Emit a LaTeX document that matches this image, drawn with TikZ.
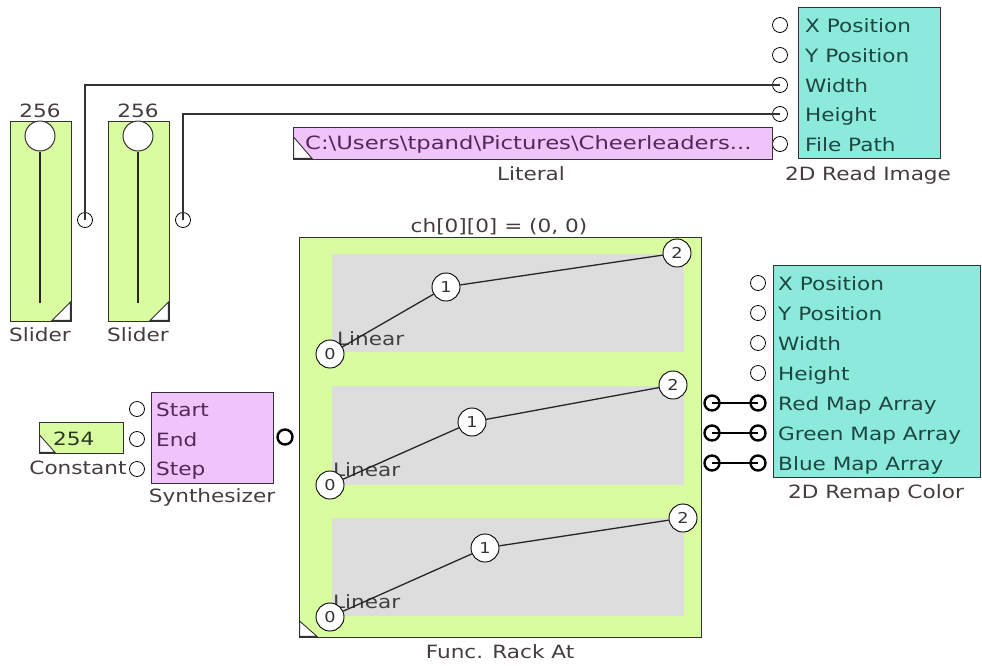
\documentclass[tikz,border=0pt]{standalone}
\usepackage{fontspec}
\newfontfamily\lbl[FakeStretch=1.18]{DejaVu Sans}
\newfontfamily\lblw[FakeStretch=1.24]{DejaVu Sans}
\definecolor{grn}{RGB}{218,252,160}
\definecolor{tealbox}{RGB}{140,234,220}
\definecolor{pnk}{RGB}{240,196,250}
\definecolor{pnl}{RGB}{221,221,221}
\definecolor{edge}{RGB}{50,50,50}
\definecolor{tealtxt}{RGB}{30,70,65}
\definecolor{pnktxt}{RGB}{80,40,90}
\definecolor{grntxt}{RGB}{40,55,30}
\definecolor{ttl}{RGB}{70,60,60}
\tikzset{
  box/.style={draw=edge, line width=1.3pt, inner sep=0pt, anchor=north west},
  port/.style={circle, draw=black, fill=white, line width=0.8pt, minimum size=15pt, inner sep=0pt},
  bport/.style={circle, draw=black, fill=white, line width=2.4pt, minimum size=15pt, inner sep=0pt},
  knob/.style={circle, draw=edge, fill=white, line width=1pt, minimum size=30pt, inner sep=0pt},
  fpt/.style={circle, draw=black, fill=white, line width=0.9pt, minimum size=28pt, inner sep=0pt, font=\lbl\fontsize{15}{16}\selectfont, text=black!80},
  txt/.style={font=\lbl\fontsize{18.3}{20}\selectfont, inner sep=0pt, anchor=base west},
  ttltxt/.style={font=\lbl\fontsize{18.3}{20}\selectfont, inner sep=0pt, anchor=base, text=ttl},
  wire/.style={draw=edge, line width=1.3pt},
  fline/.style={draw=black!85, line width=1.3pt},
  corner/.style={fill=white, draw=edge, line width=0.9pt},
}
\begin{document}
\begin{tikzpicture}[x=1pt,y=-1pt]
\useasboundingbox (0,0) rectangle (982,665);

% ---------- 2D Read Image ----------
\node[box, fill=tealbox, minimum width=142pt, minimum height=151pt] (ri) at (798,7) {};
\node[port] (riX) at (780,25) {};
\node[port] (riY) at (780,55) {};
\node[port] (riW) at (780,85) {};
\node[port] (riH) at (780,114) {};
\node[port] (riF) at (780,144) {};
\node[txt, text=tealtxt] (riXl) at (805,32) {X Position};
\node[txt, text=tealtxt] (riYl) at (805,62) {Y Position};
\node[txt, text=tealtxt] (riWl) at (805,92) {Width};
\node[txt, text=tealtxt] (riHl) at (805,121) {Height};
\node[txt, text=tealtxt] (riFl) at (805,151) {File Path};
\node[ttltxt] (rit) at (868,180) {2D Read Image};

% ---------- Sliders ----------
\node[box, fill=grn, minimum width=61pt, minimum height=200pt] (s1) at (10,121) {};
\node[box, fill=grn, minimum width=61pt, minimum height=200pt] (s2) at (108,121) {};
\coordinate (s1b) at (40,303);
\coordinate (s2b) at (138,303);
\node[knob] (k1) at (40,136) {};
\node[knob] (k2) at (138,136) {};
\draw[fline] (k1.south) -- (s1b);
\draw[fline] (k2.south) -- (s2b);
\path[corner] (52,320.4) -- (70.4,302) -- (70.4,320.4) -- cycle;
\path[corner] (150,320.4) -- (168.4,302) -- (168.4,320.4) -- cycle;
\node[ttltxt] (s1v) at (40,117) {256};
\node[ttltxt] (s2v) at (138,117) {256};
\node[ttltxt] (s1t) at (40,341) {Slider};
\node[ttltxt] (s2t) at (138,341) {Slider};
\node[port] (sp1) at (85,220) {};
\node[port] (sp2) at (183,220) {};
\draw[wire] (sp1.center) |- (riW.center);
\draw[wire] (sp2.center) |- (riH.center);

% ---------- Literal ----------
\node[box, fill=pnk, minimum width=479pt, minimum height=32pt] (lit) at (293,127) {};
\path[corner] (293.6,137) -- (312,158.4) -- (293.6,158.4) -- cycle;
\node[txt, font=\lblw\fontsize{18.3}{20}\selectfont, text=pnktxt] (litv) at (305,149.5) {C:\textbackslash Users\textbackslash tpand\textbackslash Pictures\textbackslash Cheerleaders...};
\node[ttltxt] (litt) at (531,180) {Literal};

% ---------- Constant ----------
\node[box, fill=grn, minimum width=84pt, minimum height=31pt] (con) at (39,422) {};
\path[corner] (39.6,435) -- (55,452.4) -- (39.6,452.4) -- cycle;
\node[txt, text=grntxt] (conv) at (53,445) {254};
\node[ttltxt] (cont) at (78,474) {Constant};

% ---------- Synthesizer ----------
\node[box, fill=pnk, minimum width=122pt, minimum height=91pt] (syn) at (151,392) {};
\node[port] (synS) at (137,409) {};
\node[port] (synE) at (137,439) {};
\node[port] (synP) at (137,469) {};
\node[txt, text=pnktxt] (synSl) at (156,416) {Start};
\node[txt, text=pnktxt] (synEl) at (156,446) {End};
\node[txt, text=pnktxt] (synPl) at (156,475) {Step};
\node[ttltxt] (synt) at (212,502) {Synthesizer};
\node[bport] (synO) at (285,437) {};

% ---------- Func. Rack At ----------
\node[box, fill=grn, minimum width=402pt, minimum height=400pt] (rack) at (299,237) {};
\node[ttltxt] (rackh) at (499,232) {ch[0][0] = (0, 0)};
\node[ttltxt] (rackt) at (500,658) {Func. Rack At};
\node[box, draw=none, fill=pnl, minimum width=352pt, minimum height=98pt] (pa) at (331,253) {};
\node[box, draw=none, fill=pnl, minimum width=352pt, minimum height=99pt] (pb) at (331,385) {};
\node[box, draw=none, fill=pnl, minimum width=352pt, minimum height=98pt] (pc) at (331,517) {};
\node[txt, text=black!75] (la) at (337,345) {Linear};
\node[txt, text=black!75] (lb) at (333,476) {Linear};
\node[txt, text=black!75] (lc) at (333,608) {Linear};
\path[corner] (299.6,621) -- (317,636.4) -- (299.6,636.4) -- cycle;
% panel 1
\node[fpt] (a0) at (330,354) {0};
\node[fpt] (a1) at (446,287) {1};
\node[fpt] (a2) at (677,253) {2};
\draw[fline] (a0) -- (a1) -- (a2);
% panel 2
\node[fpt] (b0) at (330,485) {0};
\node[fpt] (b1) at (472,422) {1};
\node[fpt] (b2) at (673,385) {2};
\draw[fline] (b0) -- (b1) -- (b2);
% panel 3
\node[fpt] (c0) at (330,617) {0};
\node[fpt] (c1) at (485,548) {1};
\node[fpt] (c2) at (683,518) {2};
\draw[fline] (c0) -- (c1) -- (c2);

% ---------- 2D Remap Color ----------
\node[box, fill=tealbox, minimum width=207pt, minimum height=212pt] (rm) at (773,265) {};
\node[port] (rmX) at (758,283) {};
\node[port] (rmY) at (758,313) {};
\node[port] (rmW) at (758,343) {};
\node[port] (rmH) at (758,373) {};
\node[bport] (rmR) at (758,403) {};
\node[bport] (rmG) at (758,433) {};
\node[bport] (rmB) at (758,463) {};
\node[txt, text=tealtxt] (rmXl) at (778,290) {X Position};
\node[txt, text=tealtxt] (rmYl) at (778,320) {Y Position};
\node[txt, text=tealtxt] (rmWl) at (778,350) {Width};
\node[txt, text=tealtxt] (rmHl) at (778,380) {Height};
\node[txt, text=tealtxt] (rmRl) at (778,410) {Red Map Array};
\node[txt, text=tealtxt] (rmGl) at (778,440) {Green Map Array};
\node[txt, text=tealtxt] (rmBl) at (778,470) {Blue Map Array};
\node[ttltxt] (rmt) at (876,498) {2D Remap Color};
\node[bport] (oR) at (712,403) {};
\node[bport] (oG) at (712,433) {};
\node[bport] (oB) at (712,463) {};
\draw[draw=black, line width=2pt] (oR.center) -- (rmR.center);
\draw[draw=black, line width=2pt] (oG.center) -- (rmG.center);
\draw[draw=black, line width=2pt] (oB.center) -- (rmB.center);
\end{tikzpicture}
\end{document}
